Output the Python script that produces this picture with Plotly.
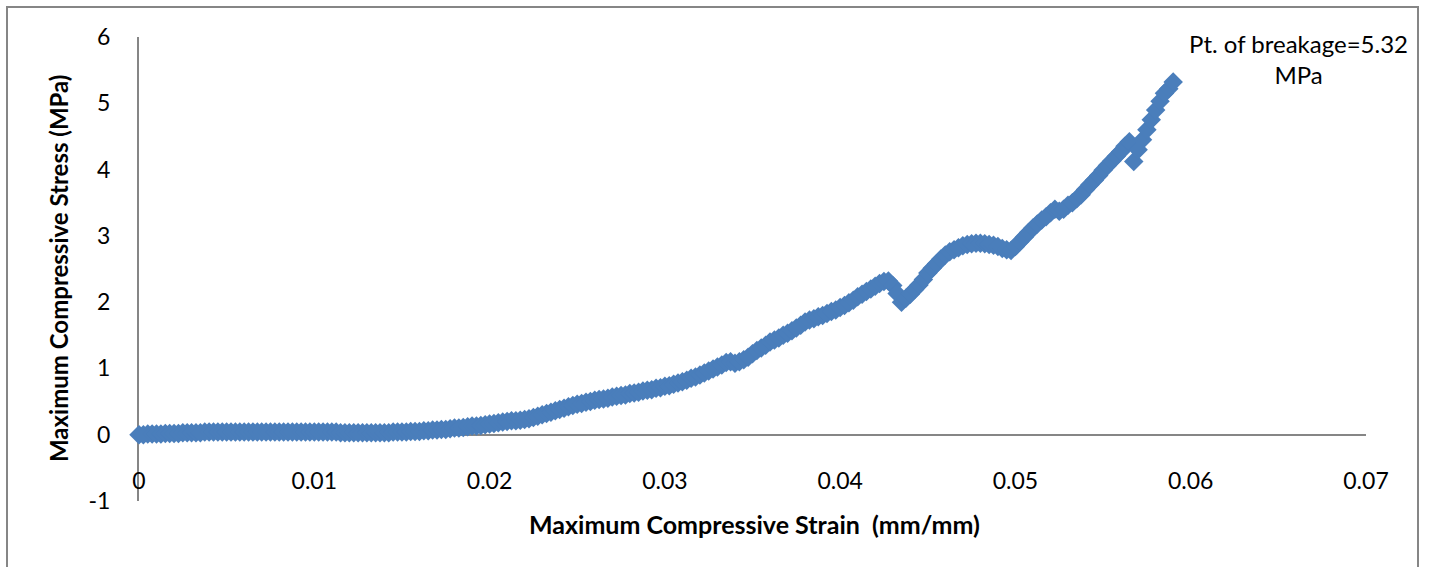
import plotly.graph_objects as go

# Maximum compressive strain (mm/mm)
strain = [
    0.0000, 0.00025, 0.0005, 0.00075,
    0.0010, 0.00125, 0.0015, 0.00175,
    0.0020, 0.00225, 0.0025, 0.00275,
    0.0030, 0.00325, 0.0035, 0.00375,
    0.0040, 0.00425, 0.0045, 0.00475,
    0.0050, 0.00525, 0.0055, 0.00575,
    0.0060, 0.00625, 0.0065, 0.00675,
    0.0070, 0.00725, 0.0075, 0.00775,
    0.0080, 0.00825, 0.0085, 0.00875,
    0.0090, 0.00925, 0.0095, 0.00975,
    0.0100, 0.01025, 0.0105, 0.01075,
    0.0110, 0.01125, 0.0115, 0.01175,
    0.0120, 0.01225, 0.0125, 0.01275,
    0.0130, 0.01325, 0.0135, 0.01375,
    0.0140, 0.01425, 0.0145, 0.01475,
    0.0150, 0.01525, 0.0155, 0.01575,
    0.0160, 0.01625, 0.0165, 0.01675,
    0.0170, 0.01725, 0.0175, 0.01775,
    0.0180, 0.01825, 0.0185, 0.01875,
    0.0190, 0.01925, 0.0195, 0.01975,
    0.0200, 0.02025, 0.0205, 0.02075,
    0.0210, 0.02125, 0.0215, 0.02175,
    0.0220, 0.02225, 0.0225, 0.02275,
    0.0230, 0.02325, 0.0235, 0.02375,
    0.0240, 0.02425, 0.0245, 0.02475,
    0.0250, 0.02525, 0.0255, 0.02575,
    0.0260, 0.02625, 0.0265, 0.02675,
    0.0270, 0.02725, 0.0275, 0.02775,
    0.0280, 0.02825, 0.0285, 0.02875,
    0.0290, 0.02925, 0.0295, 0.02975,
    0.0300, 0.03025, 0.0305, 0.03075,
    0.0310, 0.03125, 0.0315, 0.03175,
    0.0320, 0.03225, 0.0325, 0.03275,
    0.0330, 0.03325, 0.0335, 0.03375,
    0.0340, 0.03425, 0.0345, 0.03475,
    0.0350, 0.03525, 0.0355, 0.03575,
    0.0360, 0.03625, 0.0365, 0.03675,
    0.0370, 0.03725, 0.0375, 0.03775,
    0.0380, 0.03825, 0.0385, 0.03875,
    0.0390, 0.03925, 0.0395, 0.03975,
    0.0400, 0.04025, 0.0405, 0.04075,
    0.0410, 0.04125, 0.0415, 0.04175,
    0.0420, 0.04225, 0.0425, 0.04275,
    0.0430, 0.04325, 0.0435, 0.04375,
    0.0440, 0.04425, 0.0445, 0.04475,
    0.0450, 0.04525, 0.0455, 0.04575,
    0.0460, 0.04625, 0.0465, 0.04675,
    0.0470, 0.04725, 0.0475, 0.04775,
    0.0480, 0.04825, 0.0485, 0.04875,
    0.0490, 0.04925, 0.0495, 0.04975,
    0.0500, 0.05025, 0.0505, 0.05075,
    0.0510, 0.05125, 0.0515, 0.05175,
    0.0520, 0.05225, 0.0525, 0.05275,
    0.0530, 0.05325, 0.0535, 0.05375,
    0.0540, 0.05425, 0.0545, 0.05475,
    0.0550, 0.05525, 0.0555, 0.05575,
    0.0560, 0.05625, 0.0565, 0.05675,
    0.0570, 0.05725, 0.0575, 0.05775,
    0.0580, 0.05825, 0.0585, 0.05875,
    0.0590,
]

# Maximum compressive stress (MPa)
stress = [
    0.00, 0.00, 0.01, 0.01,
    0.01, 0.01, 0.02, 0.02,
    0.02, 0.02, 0.03, 0.03,
    0.03, 0.03, 0.03, 0.04,
    0.04, 0.04, 0.04, 0.04,
    0.04, 0.04, 0.04, 0.04,
    0.04, 0.04, 0.04, 0.04,
    0.04, 0.04, 0.04, 0.04,
    0.04, 0.04, 0.04, 0.04,
    0.04, 0.04, 0.04, 0.04,
    0.04, 0.04, 0.04, 0.04,
    0.04, 0.04, 0.03, 0.03,
    0.03, 0.03, 0.03, 0.03,
    0.03, 0.03, 0.03, 0.03,
    0.03, 0.03, 0.04, 0.04,
    0.04, 0.04, 0.05, 0.05,
    0.05, 0.06, 0.06, 0.07,
    0.07, 0.08, 0.08, 0.09,
    0.10, 0.10, 0.11, 0.12,
    0.13, 0.13, 0.14, 0.15,
    0.16, 0.17, 0.18, 0.19,
    0.20, 0.21, 0.21, 0.22,
    0.23, 0.24, 0.26, 0.28,
    0.30, 0.32, 0.34, 0.36,
    0.38, 0.40, 0.42, 0.44,
    0.46, 0.47, 0.49, 0.50,
    0.52, 0.53, 0.54, 0.55,
    0.57, 0.58, 0.59, 0.60,
    0.62, 0.63, 0.64, 0.66,
    0.67, 0.68, 0.70, 0.71,
    0.73, 0.74, 0.76, 0.78,
    0.80, 0.82, 0.85, 0.87,
    0.90, 0.93, 0.96, 0.99,
    1.02, 1.05, 1.09, 1.10,
    1.08, 1.10, 1.13, 1.17,
    1.22, 1.27, 1.31, 1.35,
    1.40, 1.43, 1.46, 1.50,
    1.53, 1.57, 1.61, 1.65,
    1.70, 1.73, 1.75, 1.78,
    1.80, 1.83, 1.86, 1.88,
    1.92, 1.95, 1.99, 2.03,
    2.08, 2.12, 2.16, 2.20,
    2.24, 2.28, 2.31, 2.32,
    2.25, 2.13, 2.00, 2.06,
    2.12, 2.19, 2.26, 2.34,
    2.44, 2.51, 2.58, 2.65,
    2.71, 2.76, 2.79, 2.82,
    2.85, 2.87, 2.88, 2.89,
    2.89, 2.88, 2.87, 2.86,
    2.84, 2.81, 2.79, 2.78,
    2.84, 2.91, 2.98, 3.05,
    3.12, 3.18, 3.24, 3.29,
    3.35, 3.40, 3.37, 3.40,
    3.46, 3.50, 3.56, 3.62,
    3.70, 3.77, 3.84, 3.91,
    3.99, 4.06, 4.13, 4.20,
    4.27, 4.35, 4.42, 4.12,
    4.30, 4.45, 4.60, 4.75,
    4.90, 5.03, 5.15, 5.22,
    5.32,
]

x_tick_vals = [0, 0.01, 0.02, 0.03, 0.04, 0.05, 0.06, 0.07]
x_tick_text = ["0", "0.01", "0.02", "0.03", "0.04", "0.05", "0.06", "0.07"]
y_tick_vals = [-1, 0, 1, 2, 3, 4, 5, 6]
y_tick_text = ["-1", "0", "1", "2", "3", "4", "5", "6"]

x_title = "Maximum Compressive Strain\u00a0\u00a0(mm/mm)"
y_title = "Maximum Compressive Stress (MPa)"
note_text = "Pt. of breakage=5.32<br>MPa"

FONT = "Lato"
AXIS_GRAY = "#868686"

fig = go.Figure()
fig.add_trace(go.Scatter(
    x=strain, y=stress, mode="markers",
    marker=dict(symbol="diamond", size=15, color="#4A7EBB", line=dict(width=0)),
    cliponaxis=False, showlegend=False,
))

W, H = 1429, 567
L, R, T, B = 139, 63, 37, 66
pw, ph = W - L - R, H - T - B


def px_x(p):
    return (p - L) / pw


def px_y(p):
    return (H - B - p) / ph


fig.update_layout(
    width=W, height=H,
    margin=dict(l=L, r=R, t=T, b=B, pad=0),
    paper_bgcolor="white", plot_bgcolor="white",
    font=dict(family=FONT, size=23, color="black"),
    xaxis=dict(
        range=[0, 0.07], tickvals=x_tick_vals, ticktext=x_tick_text,
        showgrid=False, zeroline=False, showline=False, ticks="",
        anchor="free", position=px_y(465),
        tickfont=dict(family=FONT, size=23, color="black"),
    ),
    yaxis=dict(
        range=[-1, 6], tickvals=y_tick_vals, ticktext=y_tick_text,
        showgrid=False, zeroline=True, zerolinecolor=AXIS_GRAY, zerolinewidth=2,
        showline=True, linecolor=AXIS_GRAY, linewidth=2, ticks="",
        ticklabelstandoff=22, layer="below traces",
        tickfont=dict(family=FONT, size=23, color="black"),
    ),
    annotations=[
        dict(text="<b>" + x_title + "</b>", xref="paper", yref="paper",
             x=px_x(754), y=px_y(524), xanchor="center", yanchor="middle",
             showarrow=False, font=dict(family=FONT, size=25, color="black")),
        dict(text="<b>" + y_title + "</b>", xref="paper", yref="paper",
             x=px_x(58), y=px_y(269), xanchor="center", yanchor="middle",
             textangle=-90, showarrow=False,
             font=dict(family=FONT, size=24, color="black")),
        dict(text=note_text, xref="paper", yref="paper",
             x=px_x(1298), y=px_y(59), xanchor="center", yanchor="middle",
             align="center", showarrow=False,
             font=dict(family=FONT, size=24, color="black")),
    ],
    shapes=[
        dict(type="rect", xref="paper", yref="paper",
             x0=px_x(7), x1=px_x(1418), y0=px_y(580), y1=px_y(7),
             line=dict(color=AXIS_GRAY, width=2), fillcolor="rgba(0,0,0,0)",
             layer="below"),
    ],
)

fig.write_html("out.html")
